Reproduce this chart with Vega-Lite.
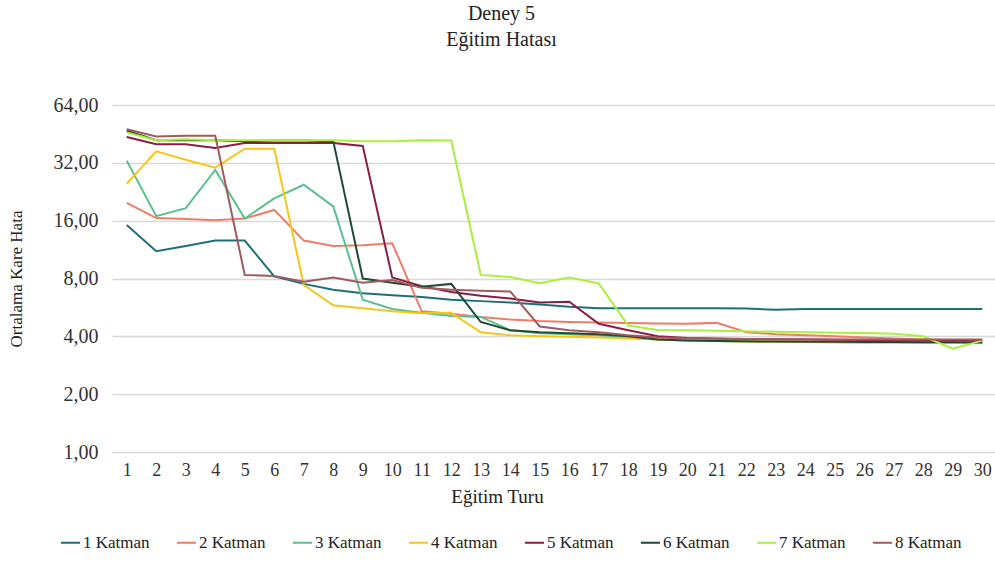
{
  "$schema": "https://vega.github.io/schema/vega-lite/v6.json",
  "width": 885,
  "height": 347,
  "autosize": {"type": "none"},
  "padding": {"left": 112, "top": 105, "right": 0, "bottom": 109},
  "background": "white",
  "config": {"view": {"stroke": null}},
  "title": {
    "text": ["Deney 5", "Eğitim Hatası"],
    "font": "Liberation Serif",
    "fontSize": 20,
    "fontWeight": "normal",
    "color": "#222222",
    "lineHeight": 26,
    "anchor": "middle",
    "dx": -53,
    "offset": 45
  },
  "data": {"values": [
    {"t":1,"s":"1 Katman","v":15.2},{"t":2,"s":"1 Katman","v":11.1},{"t":3,"s":"1 Katman","v":11.8},{"t":4,"s":"1 Katman","v":12.6},{"t":5,"s":"1 Katman","v":12.6},{"t":6,"s":"1 Katman","v":8.2},{"t":7,"s":"1 Katman","v":7.5},{"t":8,"s":"1 Katman","v":7.0},{"t":9,"s":"1 Katman","v":6.7},{"t":10,"s":"1 Katman","v":6.55},{"t":11,"s":"1 Katman","v":6.4},{"t":12,"s":"1 Katman","v":6.2},{"t":13,"s":"1 Katman","v":6.1},{"t":14,"s":"1 Katman","v":6.0},{"t":15,"s":"1 Katman","v":5.85},{"t":16,"s":"1 Katman","v":5.7},{"t":17,"s":"1 Katman","v":5.6},{"t":18,"s":"1 Katman","v":5.6},{"t":19,"s":"1 Katman","v":5.6},{"t":20,"s":"1 Katman","v":5.6},{"t":21,"s":"1 Katman","v":5.6},{"t":22,"s":"1 Katman","v":5.58},{"t":23,"s":"1 Katman","v":5.5},{"t":24,"s":"1 Katman","v":5.55},{"t":25,"s":"1 Katman","v":5.55},{"t":26,"s":"1 Katman","v":5.55},{"t":27,"s":"1 Katman","v":5.55},{"t":28,"s":"1 Katman","v":5.55},{"t":29,"s":"1 Katman","v":5.55},{"t":30,"s":"1 Katman","v":5.55},
    {"t":1,"s":"2 Katman","v":19.8},{"t":2,"s":"2 Katman","v":16.5},{"t":3,"s":"2 Katman","v":16.3},{"t":4,"s":"2 Katman","v":16.1},{"t":5,"s":"2 Katman","v":16.4},{"t":6,"s":"2 Katman","v":18.2},{"t":7,"s":"2 Katman","v":12.6},{"t":8,"s":"2 Katman","v":11.8},{"t":9,"s":"2 Katman","v":11.9},{"t":10,"s":"2 Katman","v":12.2},{"t":11,"s":"2 Katman","v":5.4},{"t":12,"s":"2 Katman","v":5.25},{"t":13,"s":"2 Katman","v":5.05},{"t":14,"s":"2 Katman","v":4.9},{"t":15,"s":"2 Katman","v":4.8},{"t":16,"s":"2 Katman","v":4.75},{"t":17,"s":"2 Katman","v":4.72},{"t":18,"s":"2 Katman","v":4.7},{"t":19,"s":"2 Katman","v":4.67},{"t":20,"s":"2 Katman","v":4.65},{"t":21,"s":"2 Katman","v":4.7},{"t":22,"s":"2 Katman","v":4.2},{"t":23,"s":"2 Katman","v":4.1},{"t":24,"s":"2 Katman","v":4.05},{"t":25,"s":"2 Katman","v":4.0},{"t":26,"s":"2 Katman","v":3.95},{"t":27,"s":"2 Katman","v":3.9},{"t":28,"s":"2 Katman","v":3.85},{"t":29,"s":"2 Katman","v":3.82},{"t":30,"s":"2 Katman","v":3.8},
    {"t":1,"s":"3 Katman","v":32.8},{"t":2,"s":"3 Katman","v":16.9},{"t":3,"s":"3 Katman","v":18.6},{"t":4,"s":"3 Katman","v":29.4},{"t":5,"s":"3 Katman","v":16.4},{"t":6,"s":"3 Katman","v":20.9},{"t":7,"s":"3 Katman","v":24.6},{"t":8,"s":"3 Katman","v":19.0},{"t":9,"s":"3 Katman","v":6.2},{"t":10,"s":"3 Katman","v":5.55},{"t":11,"s":"3 Katman","v":5.3},{"t":12,"s":"3 Katman","v":5.1},{"t":13,"s":"3 Katman","v":5.05},{"t":14,"s":"3 Katman","v":4.3},{"t":15,"s":"3 Katman","v":4.15},{"t":16,"s":"3 Katman","v":4.1},{"t":17,"s":"3 Katman","v":4.05},{"t":18,"s":"3 Katman","v":3.95},{"t":19,"s":"3 Katman","v":3.85},{"t":20,"s":"3 Katman","v":3.8},{"t":21,"s":"3 Katman","v":3.78},{"t":22,"s":"3 Katman","v":3.76},{"t":23,"s":"3 Katman","v":3.75},{"t":24,"s":"3 Katman","v":3.74},{"t":25,"s":"3 Katman","v":3.73},{"t":26,"s":"3 Katman","v":3.72},{"t":27,"s":"3 Katman","v":3.71},{"t":28,"s":"3 Katman","v":3.7},{"t":29,"s":"3 Katman","v":3.7},{"t":30,"s":"3 Katman","v":3.7},
    {"t":1,"s":"4 Katman","v":24.9},{"t":2,"s":"4 Katman","v":36.7},{"t":3,"s":"4 Katman","v":33.2},{"t":4,"s":"4 Katman","v":30.2},{"t":5,"s":"4 Katman","v":37.9},{"t":6,"s":"4 Katman","v":37.9},{"t":7,"s":"4 Katman","v":7.4},{"t":8,"s":"4 Katman","v":5.8},{"t":9,"s":"4 Katman","v":5.6},{"t":10,"s":"4 Katman","v":5.4},{"t":11,"s":"4 Katman","v":5.28},{"t":12,"s":"4 Katman","v":5.3},{"t":13,"s":"4 Katman","v":4.2},{"t":14,"s":"4 Katman","v":4.05},{"t":15,"s":"4 Katman","v":4.0},{"t":16,"s":"4 Katman","v":3.98},{"t":17,"s":"4 Katman","v":3.95},{"t":18,"s":"4 Katman","v":3.9},{"t":19,"s":"4 Katman","v":3.85},{"t":20,"s":"4 Katman","v":3.8},{"t":21,"s":"4 Katman","v":3.78},{"t":22,"s":"4 Katman","v":3.76},{"t":23,"s":"4 Katman","v":3.75},{"t":24,"s":"4 Katman","v":3.74},{"t":25,"s":"4 Katman","v":3.73},{"t":26,"s":"4 Katman","v":3.72},{"t":27,"s":"4 Katman","v":3.71},{"t":28,"s":"4 Katman","v":3.7},{"t":29,"s":"4 Katman","v":3.7},{"t":30,"s":"4 Katman","v":3.7},
    {"t":1,"s":"5 Katman","v":43.6},{"t":2,"s":"5 Katman","v":40.0},{"t":3,"s":"5 Katman","v":40.0},{"t":4,"s":"5 Katman","v":38.2},{"t":5,"s":"5 Katman","v":40.6},{"t":6,"s":"5 Katman","v":40.6},{"t":7,"s":"5 Katman","v":40.6},{"t":8,"s":"5 Katman","v":40.6},{"t":9,"s":"5 Katman","v":39.2},{"t":10,"s":"5 Katman","v":8.1},{"t":11,"s":"5 Katman","v":7.3},{"t":12,"s":"5 Katman","v":6.8},{"t":13,"s":"5 Katman","v":6.5},{"t":14,"s":"5 Katman","v":6.3},{"t":15,"s":"5 Katman","v":6.0},{"t":16,"s":"5 Katman","v":6.05},{"t":17,"s":"5 Katman","v":4.65},{"t":18,"s":"5 Katman","v":4.3},{"t":19,"s":"5 Katman","v":4.0},{"t":20,"s":"5 Katman","v":3.92},{"t":21,"s":"5 Katman","v":3.9},{"t":22,"s":"5 Katman","v":3.88},{"t":23,"s":"5 Katman","v":3.86},{"t":24,"s":"5 Katman","v":3.85},{"t":25,"s":"5 Katman","v":3.84},{"t":26,"s":"5 Katman","v":3.83},{"t":27,"s":"5 Katman","v":3.82},{"t":28,"s":"5 Katman","v":3.81},{"t":29,"s":"5 Katman","v":3.8},{"t":30,"s":"5 Katman","v":3.8},
    {"t":1,"s":"6 Katman","v":47},{"t":2,"s":"6 Katman","v":42},{"t":3,"s":"6 Katman","v":42},{"t":4,"s":"6 Katman","v":42},{"t":5,"s":"6 Katman","v":41.5},{"t":6,"s":"6 Katman","v":41.8},{"t":7,"s":"6 Katman","v":41.8},{"t":8,"s":"6 Katman","v":41.5},{"t":9,"s":"6 Katman","v":8.0},{"t":10,"s":"6 Katman","v":7.6},{"t":11,"s":"6 Katman","v":7.25},{"t":12,"s":"6 Katman","v":7.5},{"t":13,"s":"6 Katman","v":4.75},{"t":14,"s":"6 Katman","v":4.3},{"t":15,"s":"6 Katman","v":4.2},{"t":16,"s":"6 Katman","v":4.15},{"t":17,"s":"6 Katman","v":4.1},{"t":18,"s":"6 Katman","v":4.0},{"t":19,"s":"6 Katman","v":3.85},{"t":20,"s":"6 Katman","v":3.8},{"t":21,"s":"6 Katman","v":3.78},{"t":22,"s":"6 Katman","v":3.77},{"t":23,"s":"6 Katman","v":3.76},{"t":24,"s":"6 Katman","v":3.75},{"t":25,"s":"6 Katman","v":3.75},{"t":26,"s":"6 Katman","v":3.74},{"t":27,"s":"6 Katman","v":3.74},{"t":28,"s":"6 Katman","v":3.73},{"t":29,"s":"6 Katman","v":3.73},{"t":30,"s":"6 Katman","v":3.72},
    {"t":1,"s":"7 Katman","v":46},{"t":2,"s":"7 Katman","v":42},{"t":3,"s":"7 Katman","v":42.5},{"t":4,"s":"7 Katman","v":42},{"t":5,"s":"7 Katman","v":42},{"t":6,"s":"7 Katman","v":42},{"t":7,"s":"7 Katman","v":42},{"t":8,"s":"7 Katman","v":42},{"t":9,"s":"7 Katman","v":41.5},{"t":10,"s":"7 Katman","v":41.5},{"t":11,"s":"7 Katman","v":42},{"t":12,"s":"7 Katman","v":41.8},{"t":13,"s":"7 Katman","v":8.35},{"t":14,"s":"7 Katman","v":8.15},{"t":15,"s":"7 Katman","v":7.55},{"t":16,"s":"7 Katman","v":8.1},{"t":17,"s":"7 Katman","v":7.55},{"t":18,"s":"7 Katman","v":4.55},{"t":19,"s":"7 Katman","v":4.32},{"t":20,"s":"7 Katman","v":4.3},{"t":21,"s":"7 Katman","v":4.28},{"t":22,"s":"7 Katman","v":4.25},{"t":23,"s":"7 Katman","v":4.22},{"t":24,"s":"7 Katman","v":4.2},{"t":25,"s":"7 Katman","v":4.18},{"t":26,"s":"7 Katman","v":4.16},{"t":27,"s":"7 Katman","v":4.12},{"t":28,"s":"7 Katman","v":4.0},{"t":29,"s":"7 Katman","v":3.45},{"t":30,"s":"7 Katman","v":3.8},
    {"t":1,"s":"8 Katman","v":47.9},{"t":2,"s":"8 Katman","v":43.9},{"t":3,"s":"8 Katman","v":44.3},{"t":4,"s":"8 Katman","v":44.3},{"t":5,"s":"8 Katman","v":8.35},{"t":6,"s":"8 Katman","v":8.25},{"t":7,"s":"8 Katman","v":7.7},{"t":8,"s":"8 Katman","v":8.1},{"t":9,"s":"8 Katman","v":7.6},{"t":10,"s":"8 Katman","v":7.85},{"t":11,"s":"8 Katman","v":7.15},{"t":12,"s":"8 Katman","v":7.0},{"t":13,"s":"8 Katman","v":6.9},{"t":14,"s":"8 Katman","v":6.85},{"t":15,"s":"8 Katman","v":4.5},{"t":16,"s":"8 Katman","v":4.3},{"t":17,"s":"8 Katman","v":4.2},{"t":18,"s":"8 Katman","v":4.05},{"t":19,"s":"8 Katman","v":3.95},{"t":20,"s":"8 Katman","v":3.9},{"t":21,"s":"8 Katman","v":3.88},{"t":22,"s":"8 Katman","v":3.87},{"t":23,"s":"8 Katman","v":3.86},{"t":24,"s":"8 Katman","v":3.86},{"t":25,"s":"8 Katman","v":3.85},{"t":26,"s":"8 Katman","v":3.85},{"t":27,"s":"8 Katman","v":3.85},{"t":28,"s":"8 Katman","v":3.85},{"t":29,"s":"8 Katman","v":3.85},{"t":30,"s":"8 Katman","v":3.85}
  ]},
  "mark": {"type": "line", "strokeWidth": 2},
  "encoding": {
    "x": {
      "field": "t",
      "type": "ordinal",
      "scale": {"type": "point", "padding": 0.5},
      "axis": {
        "title": "Eğitim Turu",
        "labelAngle": 0,
        "domain": false,
        "ticks": false,
        "grid": false,
        "labelFont": "Liberation Serif",
        "labelFontSize": 18,
        "labelColor": "#333333",
        "labelPadding": 9,
        "titleFont": "Liberation Serif",
        "titleFontSize": 19,
        "titleFontWeight": "normal",
        "titleColor": "#222222",
        "titlePadding": 8,
        "titleX": 385
      }
    },
    "y": {
      "field": "v",
      "type": "quantitative",
      "scale": {"type": "log", "base": 2, "domain": [1, 64]},
      "axis": {
        "title": "Ortalama Kare Hata",
        "values": [1, 2, 4, 8, 16, 32, 64],
        "labelExpr": "replace(format(datum.value, '.2f'), '.', ',')",
        "domain": false,
        "ticks": false,
        "gridColor": "#d9d9d9",
        "gridWidth": 1.5,
        "labelFont": "Liberation Serif",
        "labelFontSize": 20,
        "labelColor": "#333333",
        "labelPadding": 14,
        "titleFont": "Liberation Serif",
        "titleFontSize": 17,
        "titleFontWeight": "normal",
        "titleColor": "#222222",
        "titlePadding": 28
      }
    },
    "color": {
      "field": "s",
      "type": "nominal",
      "scale": {
        "domain": ["1 Katman", "2 Katman", "3 Katman", "4 Katman", "5 Katman", "6 Katman", "7 Katman", "8 Katman"],
        "range": ["#1f6f7a", "#f07c68", "#5cbf8e", "#f5c61a", "#8a1c45", "#1e4a36", "#a8f03c", "#a35a5c"]
      },
      "legend": {
        "title": null,
        "orient": "none",
        "direction": "horizontal",
        "columns": 8,
        "legendX": -52,
        "legendY": 427,
        "symbolType": "stroke",
        "symbolSize": 360,
        "symbolStrokeWidth": 2,
        "labelFont": "Liberation Serif",
        "labelFontSize": 17,
        "labelColor": "#222222",
        "labelOffset": 2,
        "columnPadding": 23
      }
    }
  }
}
